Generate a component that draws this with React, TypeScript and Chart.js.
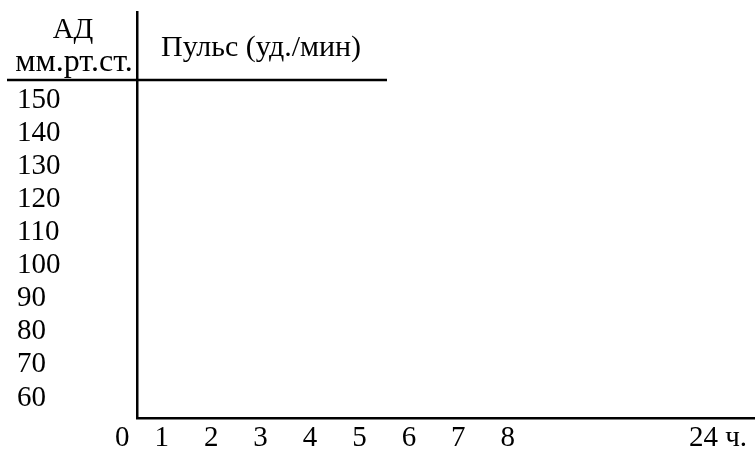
import React, { useEffect, useRef } from "react";
import { Chart, registerables } from "chart.js";

Chart.register(...registerables);

// Tick labels and their positions on the (broken) hour axis
const hourLabels = ["0", "1", "2", "3", "4", "5", "6", "7", "8", "24 ч."];
const hourTickValues = [0.2, 1, 2, 3, 4, 5, 6, 7, 8, 12.25];
// Blood-pressure tick labels (mm Hg)
const pressureTicks = [150, 140, 130, 120, 110, 100, 90, 80, 70, 60];
// Header texts
const headerBP = ["АД", "мм.рт.ст."];
const headerPulse = "Пульс (уд./мин)";

const FONT = "'Liberation Serif', 'Times New Roman', serif";

const headerPlugin = {
  id: "headers",
  afterDraw(chart: any) {
    const { ctx, chartArea } = chart;
    ctx.save();
    ctx.fillStyle = "#000";
    ctx.textBaseline = "alphabetic";
    ctx.textAlign = "center";
    const bpCenter = 73;
    ctx.font = `29px ${FONT}`;
    ctx.fillText(headerBP[0], bpCenter, 38);
    ctx.font = `32px ${FONT}`;
    ctx.fillText(headerBP[1], 74, 71);
    ctx.textAlign = "left";
    ctx.font = `30px ${FONT}`;
    ctx.fillText(headerPulse, chartArea.left + 24, 56);
    ctx.strokeStyle = "#000";
    ctx.lineWidth = 2.5;
    ctx.beginPath();
    ctx.moveTo(7, 80);
    ctx.lineTo(chartArea.left + 250, 80);
    ctx.stroke();
    ctx.restore();
  },
};

export default function App() {
  const ref = useRef<HTMLCanvasElement>(null);
  useEffect(() => {
    if (!ref.current) return;
    const chart = new Chart(ref.current, {
      type: "line",
      data: { datasets: [{ data: [], borderColor: "#000" }] },
      options: {
        animation: false,
        responsive: false,
        layout: { padding: { top: 12, left: 17, right: 0, bottom: 0 } },
        plugins: { legend: { display: false }, tooltip: { enabled: false } },
        scales: {
          x: {
            type: "linear",
            min: 0.5,
            max: 13,
            grid: { display: false, drawTicks: false },
            border: { display: true, color: "#000", width: 2.5 },
            afterBuildTicks: (scale: any) => {
              scale.ticks = hourTickValues.map((v) => ({ value: v }));
            },
            afterFit: (scale: any) => {
              scale.height = 31;
              scale.paddingLeft = 0;
              scale.paddingRight = 0;
            },
            ticks: {
              autoSkip: false,
              maxRotation: 0,
              padding: 3,
              color: "#000",
              font: { family: FONT, size: 29 },
              callback: (_v: any, i: number) => hourLabels[i],
            },
          },
          y: {
            type: "linear",
            min: 53.93,
            max: 176.6,
            grid: { display: false, drawTicks: false },
            border: { display: true, color: "#000", width: 2.5 },
            afterBuildTicks: (scale: any) => {
              scale.ticks = pressureTicks.map((v) => ({ value: v }));
            },
            afterFit: (scale: any) => {
              scale.width = 120;
              scale.paddingTop = 0;
              scale.paddingBottom = 0;
            },
            ticks: {
              autoSkip: false,
              crossAlign: "far",
              color: "#000",
              font: { family: FONT, size: 29 },
              callback: (v: any) => String(v),
            },
          },
        },
      },
      plugins: [headerPlugin],
    });
    return () => chart.destroy();
  }, []);
  return (
    <div style={{ position: "absolute", left: 0, top: 0, width: 755, height: 449, background: "#fff" }}>
      <canvas ref={ref} width={755} height={449} />
    </div>
  );
}
